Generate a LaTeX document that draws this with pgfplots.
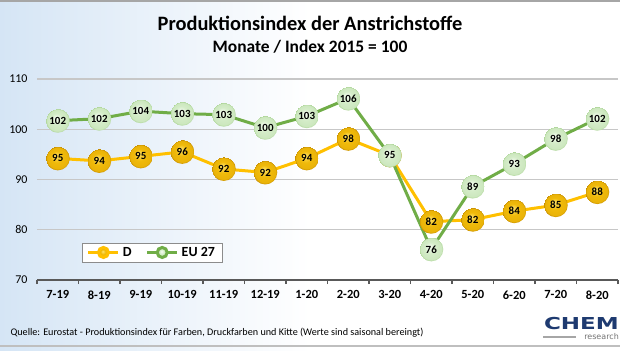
\documentclass[border=0pt]{standalone}
\usepackage{fontspec}
\setmainfont{Carlito}
\newfontfamily\logofont{DejaVu Sans}
\usepackage{pgfplots}
\pgfplotsset{compat=1.18}
\definecolor{dline}{RGB}{255,192,0}
\definecolor{eline}{RGB}{112,173,71}
\definecolor{bgblue}{RGB}{158,196,232}
\definecolor{bgmid}{RGB}{208,226,244}
\definecolor{gold1}{RGB}{255,228,110}
\definecolor{gold2}{RGB}{240,186,10}
\definecolor{gold3}{RGB}{196,140,0}
\definecolor{grn1}{RGB}{246,252,242}
\definecolor{grn2}{RGB}{212,236,200}
\definecolor{grn3}{RGB}{172,212,150}
\definecolor{navy}{RGB}{30,58,112}
\pgfdeclarehorizontalshading{bgshade}{100bp}{color(0bp)=(bgblue); color(22bp)=(bgmid); color(50bp)=(white); color(100bp)=(white)}
\pgfdeclareradialshading{goldball}{\pgfpoint{-4bp}{6bp}}{color(0bp)=(gold1); color(12bp)=(gold2); color(22bp)=(gold2!85!gold3); color(25bp)=(gold3)}
\pgfdeclareradialshading{greenball}{\pgfpoint{-4bp}{6bp}}{color(0bp)=(grn1); color(12bp)=(grn2); color(22bp)=(grn2!80!grn3); color(25bp)=(grn3)}
\begin{document}
\begin{tikzpicture}[x=1bp,y=1bp]
\shade[shading=bgshade] (0,0) rectangle (620,350);
\useasboundingbox (0,0) rectangle (620,350);
\fill[black!35] (0,348) rectangle (620,350);
\fill[black!25] (0,3) rectangle (620,5);
\node[font=\bfseries\fontsize{20.5}{22}\selectfont] at (310,327) {Produktionsindex der Anstrichstoffe};
\node[font=\bfseries\fontsize{17.5}{19}\selectfont] at (310,303) {Monate / Index 2015 = 100};
\begin{axis}[
  at={(37bp,70bp)}, anchor=south west,
  scale only axis, width=581bp, height=201bp,
  xmin=-0.5, xmax=13.5, ymin=70, ymax=110,
  clip=false,
  axis x line*=bottom, axis y line*=left,
  separate axis lines,
  x axis line style={draw=black!65, line width=1.5pt, -},
  y axis line style={draw=none},
  ytick={70,80,...,110},
  ymajorgrids,
  grid style={draw=black!22, line width=1.2pt},
  ytick style={draw=none},
  xtick={0,...,13},
  xticklabels={7-19,8-19,9-19,10-19,11-19,12-19,1-20,2-20,3-20,4-20,5-20,6-20,7-20,8-20},
  major x tick style={draw=none},
  minor xtick={-0.5,0.5,...,13.5},
  xtick align=outside,
  minor tick length=4bp,
  minor x tick style={draw=black!65, line width=1.2pt},
  xticklabel style={font=\bfseries\fontsize{12.5}{14}\selectfont, yshift=-3bp},
  yticklabel style={font=\fontsize{12}{14}\selectfont, xshift=-6bp},
  /pgf/number format/assume math mode=true,
  legend style={at={(0.077,0.137)}, anchor=west, legend columns=2, draw=black!45, fill=white,
    font=\bfseries\fontsize{14}{16}\selectfont, inner ysep=2bp, inner xsep=5bp,
    /tikz/every odd column/.append style={column sep=1bp},
    /tikz/every even column/.append style={column sep=12bp}},
]
\addplot[dline, line width=3bp, mark=none, nodes near coords, point meta=explicit symbolic,
  every node near coord/.append style={anchor=center, circle, shade, shading=goldball, minimum size=24bp, inner sep=0pt, text=black, font=\bfseries\fontsize{11}{12}\selectfont},
  legend image code/.code={\draw[dline,line width=3bp] (0bp,0bp) -- (30bp,0bp); \shade[shading=goldball] (15bp,0bp) circle (5bp);}]
coordinates {(0,94.2)[95] (1,93.7)[94] (2,94.6)[95] (3,95.5)[96] (4,92.1)[92] (5,91.4)[92] (6,94.2)[94] (7,98.1)[98] (8,94.8)[95] (9,81.6)[82] (10,82.0)[82] (11,83.7)[84] (12,84.9)[85] (13,87.5)[88]};
\addlegendentry{D}
\addplot[eline, line width=3bp, mark=none, nodes near coords, point meta=explicit symbolic,
  every node near coord/.append style={anchor=center, circle, shade, shading=greenball, minimum size=24bp, inner sep=0pt, text=black, font=\bfseries\fontsize{11}{12}\selectfont},
  legend image code/.code={\draw[eline,line width=3bp] (0bp,0bp) -- (30bp,0bp); \shade[shading=greenball] (15bp,0bp) circle (5bp);}]
coordinates {(0,101.7)[102] (1,102.1)[102] (2,103.6)[104] (3,103.1)[103] (4,102.9)[103] (5,100.3)[100] (6,102.6)[103] (7,106.1)[106] (8,94.8)[95] (9,76.1)[76] (10,88.6)[89] (11,93.1)[93] (12,98.1)[98] (13,102.1)[102]};
\addlegendentry{EU 27}
\end{axis}
\node[anchor=west, font=\fontsize{10.2}{11}\selectfont] at (7,17) {Quelle: Eurostat - Produktionsindex für Farben, Druckfarben und Kitte (Werte sind saisonal bereingt)};
\node[anchor=east, inner sep=0pt, text=navy, font=\logofont\bfseries\fontsize{16.5}{17}\selectfont] at (619,26) {\scalebox{1.4}[1]{CHEM}};
\node[anchor=east, inner sep=0pt, text=black!55, font=\logofont\fontsize{8}{9}\selectfont] at (619,13) {research};
\draw[black!35, line width=1.5bp] (543,13) -- (576,13);
\end{tikzpicture}
\end{document}
